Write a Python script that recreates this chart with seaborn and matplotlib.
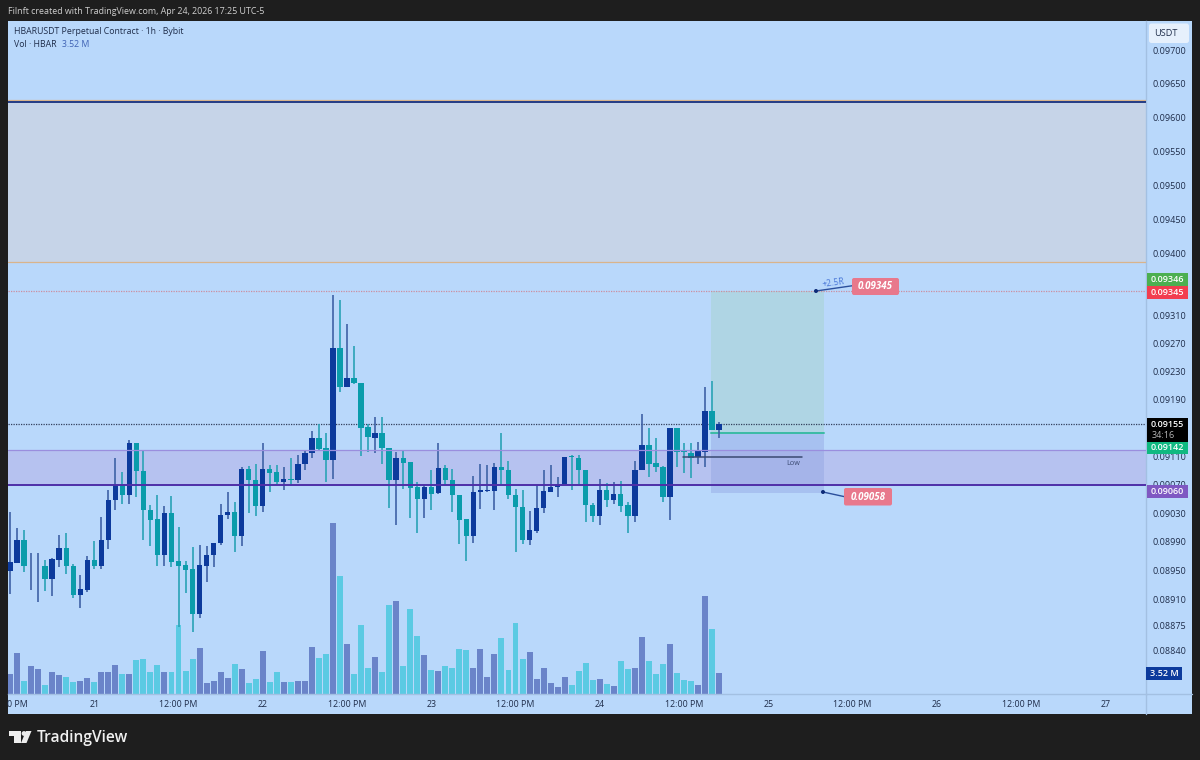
import numpy as np
import pandas as pd
import seaborn as sns
import matplotlib
matplotlib.use("Agg")
import matplotlib.pyplot as plt
from matplotlib.patches import Rectangle, Polygon, Circle, FancyBboxPatch
from matplotlib.lines import Line2D
from matplotlib.ticker import FixedLocator, NullLocator
from matplotlib.transforms import Affine2D

# ---------- data (prices in 1e-5 USDT, volumes in millions) ----------
direction = list("BB T BB T BB TT BB T BBB T B TTTT B TTTT BBBBB T B TT B TT B T BBB TT B T B TTT B TT B TTT B T B TTTT BBBB TTTT BBBBBB TTTT B T B TT BB TTT B TTT BB T B".replace(" ", ""))
body_top = [8962,8992,8992,8957,8957,8957,8966,8981,8981,8957,8925,8965,8965,8992,9048,9070,9070,9129,9129,9089,9034,9022,9030,9030,8963,8958,8952,8958,8972,8989,9028,9032,9032,9092,9092,9077,9092,9092,9087,9078,9078,9099,
            9115,9135,9135,9121,9263,9263,9220,9220,9214,9151,9143,9143,9122,9107,9107,9102,9066,9067,9067,9093,9093,9077,9056,9022,9059,9062,9062,9095,9095,9090,9056,9039,9006,9037,9061,9067,9071,9109,9110,9108,
            9091,9042,9062,9062,9057,9057,9041,9091,9125,9125,9100,9095,9149,9149,9117,9115,9117,9174,9174,9155]
body_bottom = [8950,8961,8956,8956,8956,8939,8939,8965,8956,8917,8917,8924,8957,8957,8992,9048,9055,9055,9089,9034,9021,8972,8972,8962,8957,8951,8890,8890,8957,8972,8989,9028,8998,8998,9077,9040,9040,9086,9073,9073,9077,9076,
               9099,9115,9120,9104,9104,9208,9208,9213,9150,9137,9136,9122,9076,9076,9101,9065,9050,9050,9057,9058,9077,9056,9021,8998,8998,9059,9061,9061,9090,9056,9038,8992,8992,9005,9037,9060,9066,9071,9109,9090,
               9041,9026,9026,9048,9048,9040,9026,9026,9091,9099,9094,9053,9053,9116,9116,9108,9109,9116,9147,9147]
wick_high = [9032,9009,9006,8974,8975,8965,8968,8999,9003,8959,8944,8970,8991,9025,9062,9107,9087,9133,9129,9117,9041,9056,9040,9054,9010,8964,8983,8985,8984,8989,9043,9060,9046,9095,9096,9099,9129,9097,9097,9095,9108,9112,
             9119,9145,9155,9142,9340,9332,9298,9266,9214,9156,9165,9165,9122,9116,9117,9102,9073,9070,9090,9129,9097,9092,9056,9022,9082,9099,9098,9100,9142,9103,9064,9063,9033,9069,9091,9098,9080,9109,9111,9111,
             9091,9044,9078,9072,9074,9075,9046,9103,9169,9150,9135,9096,9149,9149,9128,9128,9130,9208,9217,9158]
wick_low = [8918,8960,8948,8923,8907,8922,8915,8955,8946,8912,8898,8920,8953,8952,8980,9034,9043,9043,9052,8992,8984,8956,8956,8955,8872,8919,8865,8885,8934,8955,8986,9022,8976,8984,9030,9026,9032,9060,9071,9062,9068,9072,
            9091,9108,9117,9074,9078,9201,9208,9212,9110,9116,9115,9099,9037,9014,9064,9023,9002,9023,9034,9057,9070,9031,8987,8964,8989,9036,9060,9035,9070,9050,8976,8987,8986,9002,9030,9059,9052,9071,9063,9071,
            9018,9017,9013,9039,9043,9031,9003,9018,9091,9080,9088,9046,9020,9095,9086,9079,9099,9095,9147,9136]
volume = [3.41,6.82,2.22,4.66,4.26,1.59,3.64,3.18,2.84,1.99,2.22,2.73,2.04,3.75,3.75,4.94,3.29,3.41,5.68,5.91,3.64,4.94,3.75,3.75,11.53,3.86,5.79,7.78,1.87,2.10,3.75,2.61,5.06,4.26,1.82,2.50,7.16,1.99,3.64,1.99,2.04,2.10,2.22,7.90,5.96,6.70,28.74,19.71,8.41,3.41,11.59,4.43,6.13,
          3.69,15.00,15.51,4.77,14.31,9.66,6.48,4.03,3.81,4.66,4.43,7.50,7.38,4.32,7.61,2.90,6.76,9.43,4.03,11.93,5.85,7.10,2.50,4.43,1.87,1.25,2.78,1.59,3.92,5.17,2.39,2.50,1.70,1.36,5.57,4.20,4.32,9.54,5.45,3.41,5.11,8.41,3.58,2.39,2.10,1.48,16.36,10.85,3.52]

price_ticks = [0.09700,0.09650,0.09600,0.09550,0.09500,0.09450,0.09400,0.09310,0.09270,0.09230,0.09190,0.09110,0.09070,0.09030,0.08990,0.08950,0.08910,0.08875,0.08840]
time_ticks = [1.0,12,24,36,48,60,72,84,96,108,120,132,144,156]
time_labels = ["0 PM","21","12:00 PM","22","12:00 PM","23","12:00 PM","24","12:00 PM","25","12:00 PM","26","12:00 PM","27"]

zone_supply = (0.09388, 0.09622)
zone_demand = (0.09070, 0.09118)
target_price, entry_price, stop_price = 0.09345, 0.09142, 0.09058
last_price = 0.09155
low_price = 0.09109
position_span = (99.85, 115.9)
low_span = (95.9, 112.8)

df = pd.DataFrame({"idx": np.arange(len(volume)), "dir": direction, "top": body_top, "bot": body_bottom,
                   "hi": wick_high, "lo": wick_low, "vol": volume})
for c in ["top", "bot", "hi", "lo"]:
    df[c] = df[c] / 1e5

# ---------- colours ----------
BG = "#b9d8fb"; FRAME = "#1e1e1e"; SEP = "#a3c0e2"; TXT = "#1f2d4a"
BODY = {"B": "#0c3a9c", "T": "#0a9cab"}
WICK = {"B": "#3f62a6", "T": "#2aa3b6"}
VOLC = {"B": "#6a84c9", "T": "#5bcae3"}

sns.set_theme(style="white")
plt.rcParams["font.family"] = ["Open Sans", "DejaVu Sans"]

W, H = 1200, 760
fig = plt.figure(figsize=(W/100, H/100), dpi=100, facecolor=FRAME)
PX = Affine2D().scale(1, -1).translate(0, H)   # pixel positions for page furniture

fig.add_artist(Rectangle((8, 21), 1184, 693, transform=PX, fc=BG, ec="none"))

rect = [8/W, (H-694)/H, (1146-8)/W, (694-21)/H]
xlim = (-0.285, 161.8)

# volume pane
vax = fig.add_axes(rect, zorder=1)
vax.patch.set_visible(False)
sns.barplot(data=df, x="idx", y="vol", hue="dir", palette=VOLC, native_scale=True, dodge=False,
            width=0.85, legend=False, errorbar=None, saturation=1, linewidth=0, ax=vax)
vax.set_xlim(*xlim); vax.set_ylim(0, 112.8); vax.axis("off")

# price pane
ax = fig.add_axes(rect, zorder=2)
ax.patch.set_visible(False)
ax.set_yscale("log")
ax.set_xlim(*xlim); ax.set_ylim(0.08781, 0.09744)

ax.axhspan(*zone_supply, fc="#c6d4e8", ec="none", zorder=1)
ax.axhline(zone_supply[0], color="#d9b48c", lw=0.9, zorder=5)
ax.axhline(zone_supply[1]+0.00004, color="#d9b48c", lw=0.9, zorder=5)
ax.axhline(zone_supply[1], color="#17307c", lw=1.3, zorder=5)
ax.axhspan(*zone_demand, fc="#b6c2f0", ec="none", zorder=1)
ax.axhline(zone_demand[1], color="#9a8ede", lw=0.9, zorder=5)
ax.axhline(zone_demand[0], color="#4f2fa8", lw=1.4, zorder=5)

ax.fill_between(position_span, entry_price, target_price, color="#afd5e3", alpha=0.95, lw=0, zorder=1.5)
ax.fill_between(position_span, stop_price, entry_price, color="#8a9ee0", alpha=0.38, lw=0, zorder=1.5)
ax.plot(position_span, [entry_price]*2, color="#3bbba4", lw=1.4, zorder=3)

ax.axhline(target_price, color="#cc8fa0", lw=0.9, ls=(0, (1, 1)), zorder=2)
ax.axhline(last_price, color="#33405c", lw=0.9, ls=(0, (1, 1)), zorder=2)

for d, g in df.groupby("dir"):
    ax.vlines(g["idx"], g["lo"], g["hi"], color=WICK[d], lw=1.2, zorder=3)
    ax.bar(g["idx"], np.maximum(g["top"]-g["bot"], 0.00001), bottom=g["bot"], width=0.76, color=BODY[d], lw=0, zorder=4)

ax.plot(low_span, [low_price]*2, color="#3b4a72", lw=1.1, zorder=5)
ax.text(793, 463.5, "Low", transform=Affine2D().scale(1, -1).translate(0, H), fontsize=5.2, color="#3b4a72",
        ha="center", va="center", zorder=6)

# axes furniture
for s in ["top", "left"]:
    ax.spines[s].set_visible(False)
for s in ["right", "bottom"]:
    ax.spines[s].set_color(SEP); ax.spines[s].set_linewidth(1)
ax.yaxis.tick_right()
ax.yaxis.set_major_locator(FixedLocator(price_ticks))
ax.yaxis.set_minor_locator(NullLocator())
ax.set_yticklabels([f"{p:.5f}" for p in price_ticks])
ax.set_xticks(time_ticks); ax.set_xticklabels(time_labels)
ax.tick_params(axis="y", which="both", length=0, pad=5, labelsize=6.5, labelcolor=TXT)
ax.tick_params(axis="x", length=0, pad=4.5, labelsize=6.4, labelcolor=TXT)
ax.grid(False)
fig.add_artist(Line2D([1146, 1146], [694, 714], transform=PX, color=SEP, lw=1))
fig.add_artist(Line2D([1146, 1192], [694, 694], transform=PX, color=SEP, lw=1))

def box(x0, y0, x1, y1, color, z=10):
    ax.add_patch(Rectangle((x0, y0), x1-x0, y1-y0, transform=PX, fc=color, ec="none", clip_on=False, zorder=z))

def label(x, y, s, color="white", size=6.5, **kw):
    ax.text(x, y, s, transform=PX, color=color, fontsize=size, ha=kw.pop("ha", "center"), va="center", clip_on=False, zorder=12, **kw)

# price axis badges
box(1147, 273, 1188, 285.5, "#4caf50"); label(1167.5, 279.5, "0.09346", fontweight="semibold")
box(1147, 286, 1188, 298.5, "#f23d4f"); label(1167.5, 292.5, "0.09345", fontweight="semibold")
box(1147, 418, 1188, 442, "#000000"); label(1167.5, 424.5, "0.09155", fontweight="semibold"); label(1163, 435, "34:16", color="#b8b8b8")
box(1147, 442, 1188, 453.5, "#10b981"); label(1167.5, 448, "0.09142", fontweight="semibold")
box(1147, 485, 1188, 497.5, "#7f58c2"); label(1167.5, 491, "0.09060", fontweight="semibold")
box(1146, 667, 1182, 680, "#0c3a9c"); label(1164, 673.5, "3.52 M", fontweight="semibold")
ax.add_patch(FancyBboxPatch((1149, 23.5), 40, 19.5, boxstyle="round,pad=0,rounding_size=2.5", transform=PX,
                            fc="#e6f0fc", ec="none", clip_on=False, zorder=10))
label(1166, 33.5, "USDT", color=TXT, size=6.6)

# position annotations
PINK = "#e8788c"
for (x0, y0, x1, y1) in [(816, 291, 854, 285.5), (823, 492, 846, 497)]:
    ax.add_line(Line2D([x0, x1], [y0, y1], transform=PX, color="#2b4f9c", lw=1, clip_on=False, zorder=9))
    ax.add_patch(Circle((x0, y0), 2, transform=PX, fc="#0d2b78", ec="none", zorder=9))
ax.add_patch(FancyBboxPatch((852, 278), 47, 17, boxstyle="round,pad=0,rounding_size=2", transform=PX, fc=PINK, ec="none", zorder=10))
label(875.5, 286.5, "0.09345", fontweight="bold", fontstyle="italic", size=7)
ax.add_patch(FancyBboxPatch((844, 488), 48, 17.5, boxstyle="round,pad=0,rounding_size=2", transform=PX, fc=PINK, ec="none", zorder=10))
label(868, 497, "0.09058", fontweight="bold", fontstyle="italic", size=7)
label(833, 282.5, "+2.5R", color="#4a78d8", size=6.2, rotation=8)

# header texts
fig.text(8, 11, "Filnft created with TradingView.com, Apr 24, 2026 17:25 UTC-5", transform=PX, color="#cfcfcf", fontsize=6.4, va="center")
fig.text(14, 31.5, "HBARUSDT Perpetual Contract · 1h · Bybit", transform=PX, color=TXT, fontsize=6.3, va="center")
fig.text(14, 44.5, "Vol · HBAR", transform=PX, color=TXT, fontsize=6.3, va="center")
fig.text(62, 44.5, "3.52 M", transform=PX, color="#3f62b4", fontsize=6.3, va="center")

# footer logo
logo = "#eeeeee"
fig.add_artist(Polygon([(9, 731), (21, 731), (21, 743), (14, 743), (14, 736), (9, 736)], transform=PX, fc=logo, ec="none"))
fig.add_artist(Circle((24, 733.5), 2.4, transform=PX, fc=logo, ec="none"))
fig.add_artist(Polygon([(26, 731), (31.5, 731), (26.5, 743), (21, 743)], transform=PX, fc=logo, ec="none"))
fig.text(37, 737.5, "TradingView", transform=PX, color="#f0f0f0", fontsize=11.2, fontweight="semibold", va="center")

fig.savefig("out.png", dpi=100, facecolor=FRAME)
